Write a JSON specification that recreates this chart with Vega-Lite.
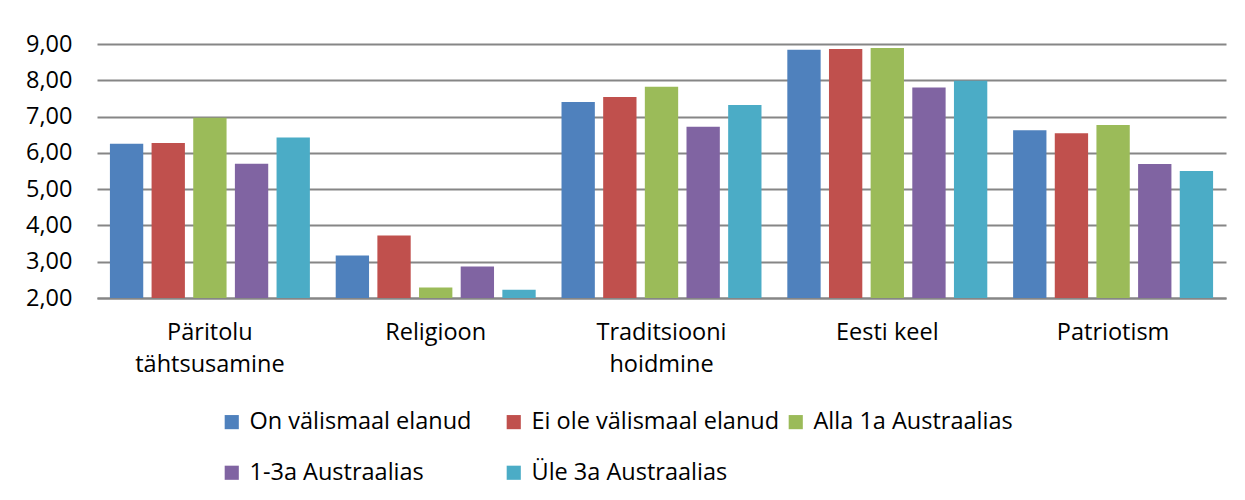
{
  "$schema": "https://vega.github.io/schema/vega-lite/v6.json",
  "width": 1129,
  "height": 254,
  "autosize": {"type": "none"},
  "padding": {"left": 97, "top": 44, "right": 19, "bottom": 202},
  "background": "white",
  "data": {
    "values": [
      {"kategooria": "Päritolu tähtsusamine", "grupp": "On välismaal elanud", "vaartus": 6.25},
      {"kategooria": "Päritolu tähtsusamine", "grupp": "Ei ole välismaal elanud", "vaartus": 6.27},
      {"kategooria": "Päritolu tähtsusamine", "grupp": "Alla 1a Austraalias", "vaartus": 6.97},
      {"kategooria": "Päritolu tähtsusamine", "grupp": "1-3a Austraalias", "vaartus": 5.70},
      {"kategooria": "Päritolu tähtsusamine", "grupp": "Üle 3a Austraalias", "vaartus": 6.42},
      {"kategooria": "Religioon", "grupp": "On välismaal elanud", "vaartus": 3.17},
      {"kategooria": "Religioon", "grupp": "Ei ole välismaal elanud", "vaartus": 3.72},
      {"kategooria": "Religioon", "grupp": "Alla 1a Austraalias", "vaartus": 2.29},
      {"kategooria": "Religioon", "grupp": "1-3a Austraalias", "vaartus": 2.87},
      {"kategooria": "Religioon", "grupp": "Üle 3a Austraalias", "vaartus": 2.23},
      {"kategooria": "Traditsiooni hoidmine", "grupp": "On välismaal elanud", "vaartus": 7.40},
      {"kategooria": "Traditsiooni hoidmine", "grupp": "Ei ole välismaal elanud", "vaartus": 7.54},
      {"kategooria": "Traditsiooni hoidmine", "grupp": "Alla 1a Austraalias", "vaartus": 7.82},
      {"kategooria": "Traditsiooni hoidmine", "grupp": "1-3a Austraalias", "vaartus": 6.72},
      {"kategooria": "Traditsiooni hoidmine", "grupp": "Üle 3a Austraalias", "vaartus": 7.32},
      {"kategooria": "Eesti keel", "grupp": "On välismaal elanud", "vaartus": 8.84},
      {"kategooria": "Eesti keel", "grupp": "Ei ole välismaal elanud", "vaartus": 8.86},
      {"kategooria": "Eesti keel", "grupp": "Alla 1a Austraalias", "vaartus": 8.89},
      {"kategooria": "Eesti keel", "grupp": "1-3a Austraalias", "vaartus": 7.80},
      {"kategooria": "Eesti keel", "grupp": "Üle 3a Austraalias", "vaartus": 7.99},
      {"kategooria": "Patriotism", "grupp": "On välismaal elanud", "vaartus": 6.62},
      {"kategooria": "Patriotism", "grupp": "Ei ole välismaal elanud", "vaartus": 6.54},
      {"kategooria": "Patriotism", "grupp": "Alla 1a Austraalias", "vaartus": 6.77},
      {"kategooria": "Patriotism", "grupp": "1-3a Austraalias", "vaartus": 5.69},
      {"kategooria": "Patriotism", "grupp": "Üle 3a Austraalias", "vaartus": 5.50}
    ]
  },
  "mark": {"type": "bar"},
  "encoding": {
    "x": {
      "field": "kategooria",
      "type": "nominal",
      "sort": ["Päritolu tähtsusamine", "Religioon", "Traditsiooni hoidmine", "Eesti keel", "Patriotism"],
      "scale": {"paddingInner": 0, "paddingOuter": 0},
      "axis": {
        "title": null,
        "labelAngle": 0,
        "ticks": false,
        "domain": true,
        "domainColor": "#868686",
        "domainWidth": 2,
        "labelPadding": 22,
        "labelFont": "Open Sans",
        "labelFontSize": 23.5,
        "labelColor": "#000000",
        "labelLineHeight": 32,
        "labelLimit": 300,
        "labelExpr": "indexof(datum.label, 'Eesti') >= 0 ? datum.label : split(datum.label, ' ')"
      }
    },
    "xOffset": {
      "field": "grupp",
      "type": "nominal",
      "sort": ["On välismaal elanud", "Ei ole välismaal elanud", "Alla 1a Austraalias", "1-3a Austraalias", "Üle 3a Austraalias"],
      "scale": {"paddingInner": 0.2, "paddingOuter": 0.31}
    },
    "y": {
      "field": "vaartus",
      "type": "quantitative",
      "scale": {"domain": [2, 9], "zero": false, "nice": false},
      "axis": {
        "title": null,
        "values": [2, 3, 4, 5, 6, 7, 8, 9],
        "ticks": false,
        "domain": false,
        "grid": true,
        "gridColor": "#868686",
        "gridWidth": 2,
        "labelPadding": 25,
        "labelFont": "Open Sans",
        "labelFontSize": 23.5,
        "labelColor": "#000000",
        "labelExpr": "replace(format(datum.value, '.2f'), '.', ',')"
      }
    },
    "y2": {"datum": 2},
    "color": {
      "field": "grupp",
      "type": "nominal",
      "sort": ["On välismaal elanud", "Ei ole välismaal elanud", "Alla 1a Austraalias", "1-3a Austraalias", "Üle 3a Austraalias"],
      "scale": {
        "domain": ["On välismaal elanud", "Ei ole välismaal elanud", "Alla 1a Austraalias", "1-3a Austraalias", "Üle 3a Austraalias"],
        "range": ["#4F81BD", "#C0504D", "#9BBB59", "#8064A2", "#4BACC6"]
      },
      "legend": {
        "title": null,
        "orient": "none",
        "legendX": 123,
        "legendY": 366,
        "direction": "horizontal",
        "columns": 3,
        "gridAlign": "all",
        "columnPadding": 4,
        "rowPadding": 26,
        "symbolType": "square",
        "symbolSize": 200,
        "symbolStrokeWidth": 0,
        "symbolOpacity": 1,
        "labelFont": "Open Sans",
        "labelFontSize": 23.5,
        "labelColor": "#000000",
        "labelLimit": 400,
        "labelOffset": 6
      }
    }
  },
  "config": {
    "view": {"stroke": null}
  }
}
